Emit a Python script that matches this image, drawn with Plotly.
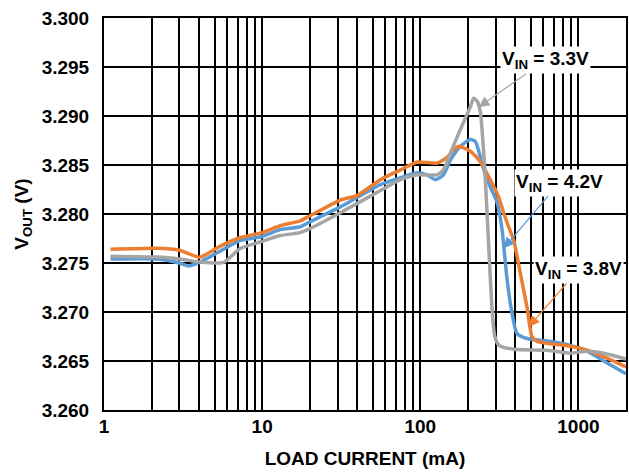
import math
import plotly.graph_objects as go

# ---- data ----
orange_x = [1.1, 2.2, 3.0, 4.05, 5.4, 7.3, 10, 13, 17.4, 20, 31, 40, 56, 75, 96, 128, 148, 174, 207, 240,
            277, 312, 337, 360, 390, 430, 473, 509, 548, 634, 890, 1135, 1520, 2000]
orange_y = [3.2764, 3.2765, 3.2763, 3.2756, 3.2767, 3.2776, 3.2781, 3.2788, 3.2793, 3.2798,
            3.2814, 3.2819, 3.2835, 3.2845, 3.2853, 3.2852, 3.2858, 3.2869, 3.2864, 3.2853,
            3.2835, 3.2818, 3.2801, 3.2788, 3.2773, 3.2739, 3.2705, 3.2675, 3.2670, 3.2668,
            3.2665, 3.2661, 3.2653, 3.2644]

blue_x = [1.1, 2.2, 3.0, 3.4, 4.05, 5.4, 7.3, 10, 13, 17.4, 20, 31, 56, 75, 96, 110, 125, 140, 155, 179,
          207, 223, 240, 258, 280, 306, 329, 354, 380, 409, 473, 665, 890, 1135, 1520, 2000]
blue_y = [3.2754, 3.2754, 3.2750, 3.2747, 3.2751, 3.2762, 3.2773, 3.2777, 3.2784, 3.2787,
          3.2792, 3.2807, 3.2830, 3.2837, 3.2842, 3.2840, 3.2835, 3.2840, 3.2855, 3.2869,
          3.2876, 3.2874, 3.2858, 3.2840, 3.2826, 3.2812, 3.2784, 3.2733, 3.2699, 3.2678,
          3.2673, 3.2670, 3.2666, 3.2660, 3.2648, 3.2637]

gray_x = [1.1, 2.2, 3.0, 4.05, 5.4, 5.8, 7.3, 10, 13, 17.4, 20, 31, 56, 75, 96, 128, 140, 155, 179, 207,
          217, 229, 240, 250, 258, 271, 284, 296, 315, 390, 634, 890, 1135, 1445, 2000]
gray_y = [3.2757, 3.2756, 3.2754, 3.2751, 3.2750, 3.2751, 3.2765, 3.2772, 3.2778, 3.2781,
          3.2785, 3.2801, 3.2824, 3.2835, 3.2840, 3.2840, 3.2845, 3.2862, 3.2886, 3.2909,
          3.2918, 3.2915, 3.2904, 3.2870, 3.2835, 3.2767, 3.2705, 3.2675, 3.2666, 3.2662,
          3.2661, 3.2658, 3.2660, 3.2658, 3.2652]

series_names = ["V<sub>IN</sub> = 4.2V", "V<sub>IN</sub> = 3.8V", "V<sub>IN</sub> = 3.3V"]
colors = {"blue": "#5B9BD5", "orange": "#ED7D31", "gray": "#A5A5A5"}

x_grid_vals = [m * 10 ** e for e in range(0, 4) for m in range(1, 10) if m * 10 ** e <= 2000]
x_grid_text = [str(v) if v in (1, 10, 100, 1000) else "" for v in x_grid_vals]

FONT = "Liberation Sans, Arial, sans-serif"

fig = go.Figure()
for xs, ys, col, name in [(blue_x, blue_y, colors["blue"], series_names[0]),
                          (orange_x, orange_y, colors["orange"], series_names[1]),
                          (gray_x, gray_y, colors["gray"], series_names[2])]:
    fig.add_trace(go.Scatter(x=xs, y=ys, mode="lines", name=name,
                             line=dict(color=col, width=3.5, shape="spline", smoothing=0.6)))

# annotations: (label, tip x, tip y, text x, text y, color)
ann = [
    (series_names[2], 234, 3.2909, 618, 3.2957, colors["gray"]),
    (series_names[0], 337, 3.2765, 759, 3.2832, colors["blue"]),
    (series_names[1], 485, 3.2685, 1000, 3.2743, colors["orange"]),
]
for label, tx, ty, lx, ly, col in ann:
    fig.add_annotation(x=math.log10(tx), y=ty, ax=math.log10(lx), ay=ly,
                       xref="x", yref="y", axref="x", ayref="y",
                       text=label, showarrow=True, arrowhead=2, arrowsize=1.8,
                       arrowwidth=1.2, arrowcolor=col, bgcolor="white", borderpad=1,
                       font=dict(family=FONT, size=19, color="black", weight="bold"))

fig.update_layout(
    width=629, height=475,
    margin=dict(l=104, r=3, t=18, b=65),
    plot_bgcolor="white", paper_bgcolor="white",
    showlegend=False,
    font=dict(family=FONT, size=18, color="black", weight="bold"),
)
fig.update_xaxes(
    type="log", range=[0, math.log10(2000)], automargin=False,
    tickmode="array", tickvals=x_grid_vals, ticktext=x_grid_text,
    showgrid=True, gridcolor="black", gridwidth=2,
    showline=True, linecolor="black", linewidth=2, mirror=True,
    ticks="", ticklabelstandoff=-2,
    tickfont=dict(family=FONT, size=19, color="black", weight="bold"),
    title=dict(text="LOAD CURRENT (mA)", standoff=16,
               font=dict(family=FONT, size=19, color="black", weight="bold")),
)
fig.update_yaxes(
    range=[3.260, 3.300], dtick=0.005, tick0=3.26, tickformat=".3f", automargin=False,
    showgrid=True, gridcolor="black", gridwidth=2, zeroline=False,
    showline=True, linecolor="black", linewidth=2, mirror=True,
    ticks="", ticklabelstandoff=9,
    tickfont=dict(family=FONT, size=19, color="black", weight="bold"),
    title=dict(text="V<sub>OUT</sub> (V)", standoff=8,
               font=dict(family=FONT, size=19, color="black", weight="bold")),
)

fig.write_html("out.html", config={"displayModeBar": False},
               post_script="document.body.style.margin='0';document.body.style.overflow='hidden';")
